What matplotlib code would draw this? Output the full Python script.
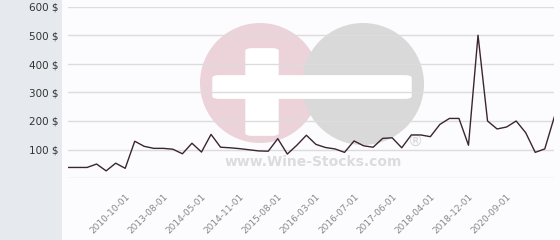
import matplotlib
matplotlib.use("Agg")
import matplotlib.pyplot as plt
import matplotlib.patches as mpatches
import numpy as np

# ── data ─────────────────────────────────────────────────────────────────────
prices = [37, 37, 37, 49, 25, 52, 34, 129, 111, 104,
          104, 101, 85, 122, 91, 153, 108, 106, 103, 99,
          95, 94, 138, 84, 115, 150, 118, 107, 102, 90,
          130, 113, 108, 139, 141, 106, 151, 151, 145, 188,
          209, 209, 115, 501, 200, 172, 179, 200, 159, 90,
          102, 214]
tick_idx = [6, 10, 14, 18, 22, 26, 30, 34, 38, 42, 46]
tick_labels = ["2010-10-01", "2013-08-01", "2014-05-01", "2014-11-01",
               "2015-08-01", "2016-03-01", "2016-07-01", "2017-06-01",
               "2018-04-01", "2018-12-01", "2020-09-01"]
y_ticks = [100, 200, 300, 400, 500, 600]

W, H = 560, 240
fig = plt.figure(figsize=(W / 100, H / 100), dpi=100, facecolor="#fcfcfe")

# left grey band (behind everything)
fig.patches.append(mpatches.Rectangle((0, 0), 62 / W, 1, transform=fig.transFigure,
                                      facecolor="#e6eaee", edgecolor="none", zorder=-5))

ax = fig.add_axes([68 / W, 1 - 178 / H, 486.3 / W, 171 / H])
ax.set_facecolor("none")
x = np.arange(len(prices))


# ── watermark (pixel coords, drawn under the grid) ───────────────────────────
def px(xp, yp):
    return (xp / W, 1 - yp / H)


def wm_patch(p):
    p.set_transform(fig.transFigure)
    p.set_clip_on(False)
    p.set_zorder(0.3)
    ax.add_artist(p)


wm_patch(mpatches.Ellipse(px(260, 83), 120 / W, 120 / H,
                          facecolor="#ecd3da", edgecolor="none"))
wm_patch(mpatches.Ellipse(px(363, 84), 122 / W, 122 / H,
                          facecolor="#d9d9da", edgecolor="none"))
wm_patch(mpatches.FancyBboxPatch(px(252, 133), 20 / W, 82 / H,
                                 boxstyle="round,pad=0.012",
                                 facecolor="white", edgecolor="none"))
wm_patch(mpatches.FancyBboxPatch(px(219, 96), 186 / W, 18 / H,
                                 boxstyle="round,pad=0.012",
                                 facecolor="white", edgecolor="none"))
ax.text(*px(313, 162), "www.Wine-Stocks.com", transform=fig.transFigure,
        ha="center", va="center", fontsize=10, fontweight="bold",
        color="#dcdcde", zorder=0.4)
ax.text(*px(415, 141), "®", transform=fig.transFigure, ha="center",
        va="center", fontsize=11, color="#d6d6d8", zorder=0.4)

# ── line ─────────────────────────────────────────────────────────────────────
ax.plot(x, prices, color="#3a2530", linewidth=1.0, zorder=5)

ax.set_xlim(0, len(prices) - 1)
ax.set_ylim(0, 600)
ax.set_yticks([0] + y_ticks)
ax.set_yticklabels([""] + [f"{v} $" for v in y_ticks])
ax.grid(axis="y", color="#dcdcdc", linewidth=1.0, zorder=1)
ax.set_axisbelow(False)
ax.tick_params(axis="y", length=0, pad=7, labelsize=7.5, labelcolor="#333333")

ax.set_xticks(tick_idx)
ax.set_xticklabels(tick_labels, rotation=45, ha="right", rotation_mode="anchor")
ax.tick_params(axis="x", length=0, pad=10, labelsize=6.5, labelcolor="#888888")

for sp in ax.spines.values():
    sp.set_visible(False)

fig.savefig("out.png", dpi=100, facecolor=fig.get_facecolor())
